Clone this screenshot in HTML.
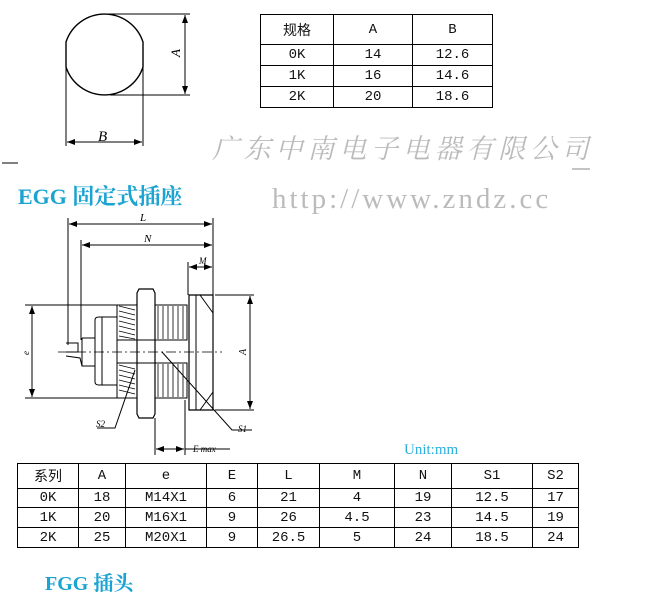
<!DOCTYPE html>
<html><head><meta charset="utf-8"><style>
body{margin:0;width:655px;height:604px;background:#fff;overflow:hidden;position:relative;font-family:"Liberation Sans","Noto Sans CJK SC",sans-serif}
.t{position:absolute;border-collapse:collapse;font-family:"Liberation Mono","Noto Sans CJK SC",monospace;font-size:14px;color:#111}
.t td{border:1.5px solid #000;text-align:center;padding:0}
.abs{position:absolute;white-space:nowrap}
</style></head><body>
<svg width="655" height="604" style="position:absolute;left:0;top:0" xmlns="http://www.w3.org/2000/svg">
<defs><marker id="ar" markerWidth="8" markerHeight="6" refX="8" refY="3" orient="auto-start-reverse" markerUnits="userSpaceOnUse"><path d="M0,0 L8,3 L0,6z" fill="#000"/></marker></defs>
<g stroke="#000" fill="none" stroke-width="1">
<path d="M66,42 A40.5,40.5 0 0 1 143,42 L143,67 A40.5,40.5 0 0 1 66,67 Z" stroke-width="1.4"/>
<line x1="100" y1="14" x2="190" y2="14"/><line x1="110" y1="95" x2="190" y2="95"/>
<line x1="185" y1="15" x2="185" y2="94" marker-start="url(#ar)" marker-end="url(#ar)"/>
<line x1="66" y1="67" x2="66" y2="146"/><line x1="143" y1="67" x2="143" y2="146"/>
<line x1="67" y1="142" x2="142" y2="142" marker-start="url(#ar)" marker-end="url(#ar)"/>
<line x1="2" y1="163" x2="18" y2="163"/><line x1="572" y1="169" x2="590" y2="169" stroke="#888"/>
<line x1="68" y1="218" x2="68" y2="345"/><line x1="213" y1="218" x2="213" y2="295"/>
<line x1="69" y1="224" x2="212" y2="224" marker-start="url(#ar)" marker-end="url(#ar)"/>
<line x1="81" y1="240" x2="81" y2="340"/>
<line x1="82" y1="245" x2="212" y2="245" marker-start="url(#ar)" marker-end="url(#ar)"/>
<line x1="188" y1="262" x2="188" y2="295"/>
<line x1="189" y1="267" x2="212" y2="267" marker-start="url(#ar)" marker-end="url(#ar)"/>
<path d="M189,295 L213,295 L213,410 L189,410 Z" stroke-width="1.2"/>
<line x1="196" y1="295" x2="196" y2="410"/>
<line x1="200" y1="295" x2="213" y2="313"/><line x1="200" y1="410" x2="213" y2="392"/>
<line x1="215" y1="295" x2="254" y2="295"/><line x1="215" y1="410" x2="254" y2="410"/>
<line x1="250" y1="296" x2="250" y2="409" marker-start="url(#ar)" marker-end="url(#ar)"/>
<path d="M139,289 L153,289 L155,293 L155,414 L153,418 L139,418 L137,414 L137,293 Z" stroke-width="1.2"/>
<line x1="137" y1="340" x2="155" y2="340"/><line x1="137" y1="363" x2="155" y2="363"/>
<path d="M117,305 L137,305 L137,340 L117,340 Z M117,363 L137,363 L137,398 L117,398 Z M155,305 L187,305 L187,340 L155,340 Z M155,363 L187,363 L187,398 L155,398 Z"/>
<path d="M119,306 l16,4 M119,311 l16,4 M119,316 l16,4 M119,321 l16,4 M119,326 l16,4 M119,331 l16,4 M119,336 l16,3
M119,365 l16,4 M119,370 l16,4 M119,375 l16,4 M119,380 l16,4 M119,385 l16,4 M119,390 l16,4
M158,306 l0,33 M163,306 l0,33 M168,306 l0,33 M173,306 l0,33 M178,306 l0,33 M183,306 l0,33
M158,364 l0,33 M163,364 l0,33 M168,364 l0,33 M173,364 l0,33 M178,364 l0,33 M183,364 l0,33" stroke-width="0.8"/>
<path d="M95,320 Q95,317 99,317 L117,317 L117,385 L99,385 Q95,385 95,382 Z"/>
<line x1="102" y1="317" x2="102" y2="385"/>
<path d="M82,338 L95,338 M82,338 L82,366 L95,366"/>
<path d="M66,343 L78,343 L78,352 L66,352 M66,356 L80,358 L82,366"/>
<line x1="58" y1="352" x2="222" y2="352" stroke-dasharray="10,3,2,3" stroke-width="0.8"/>
<line x1="25" y1="305" x2="117" y2="305"/><line x1="25" y1="398" x2="117" y2="398"/>
<line x1="32" y1="306" x2="32" y2="397" marker-start="url(#ar)" marker-end="url(#ar)"/>
<line x1="155" y1="418" x2="155" y2="455"/><line x1="185" y1="400" x2="185" y2="455"/>
<line x1="156" y1="449" x2="184" y2="449" marker-start="url(#ar)" marker-end="url(#ar)"/>
<line x1="185" y1="449" x2="230" y2="449"/>
<path d="M135,370 L115,428 L97,428"/>
<path d="M162,352 L232,430 L252,430"/>
</g>
<g font-family="Liberation Serif,serif" font-style="italic" font-size="11" fill="#000">
<text x="98" y="141" font-size="15">B</text>
<text x="180" y="57" font-size="13" transform="rotate(-90 180 57)">A</text>
<text x="140" y="221">L</text><text x="144" y="242">N</text><text x="199" y="264" font-size="9">M</text>
<text x="246" y="355" font-size="10" transform="rotate(-90 246 355)">A</text>
<text x="29" y="355" font-size="9" transform="rotate(-90 29 355)">e</text>
<text x="96" y="427" font-size="9">S2</text><text x="238" y="432" font-size="9">S1</text>
<text x="193" y="452" font-size="9">E max</text>
</g>
<text x="212" y="158" font-family="Noto Serif CJK SC,serif" font-style="italic" font-size="27" fill="#bbb" letter-spacing="4.8">广东中南电子电器有限公司</text>
<text x="272" y="208" font-family="Liberation Serif,serif" font-size="29" fill="#bbb" letter-spacing="3">http://www.zndz.cc</text>
</svg>
<div class="abs" style="left:18px;top:180px;font:bold 22px 'Liberation Serif','Noto Serif CJK SC',serif;color:#1ba3d2">EGG 固定式插座</div>
<div class="abs" style="left:404px;top:442px;font:15px 'Liberation Serif',serif;color:#2bb0dd">Unit:mm</div>
<div class="abs" style="left:45px;top:567px;font:bold 20px 'Liberation Serif','Noto Serif CJK SC',serif;color:#1ba3d2">FGG 插头</div>
<table class="t" style="left:260px;top:14px;width:233px;height:94px">
<tr style="height:30px"><td style="width:72px">规格</td><td style="width:78px">A</td><td>B</td></tr>
<tr><td>0K</td><td>14</td><td>12.6</td></tr>
<tr><td>1K</td><td>16</td><td>14.6</td></tr>
<tr><td>2K</td><td>20</td><td>18.6</td></tr>
</table>
<table class="t" style="left:17px;top:463px;width:562px;height:85px">
<tr><td style="width:60px">系列</td><td style="width:46px">A</td><td style="width:80px">e</td><td style="width:50px">E</td><td style="width:61px">L</td><td style="width:74px">M</td><td style="width:56px">N</td><td style="width:80px">S1</td><td>S2</td></tr>
<tr><td>0K</td><td>18</td><td>M14X1</td><td>6</td><td>21</td><td>4</td><td>19</td><td>12.5</td><td>17</td></tr>
<tr><td>1K</td><td>20</td><td>M16X1</td><td>9</td><td>26</td><td>4.5</td><td>23</td><td>14.5</td><td>19</td></tr>
<tr><td>2K</td><td>25</td><td>M20X1</td><td>9</td><td>26.5</td><td>5</td><td>24</td><td>18.5</td><td>24</td></tr>
</table>
</body></html>
